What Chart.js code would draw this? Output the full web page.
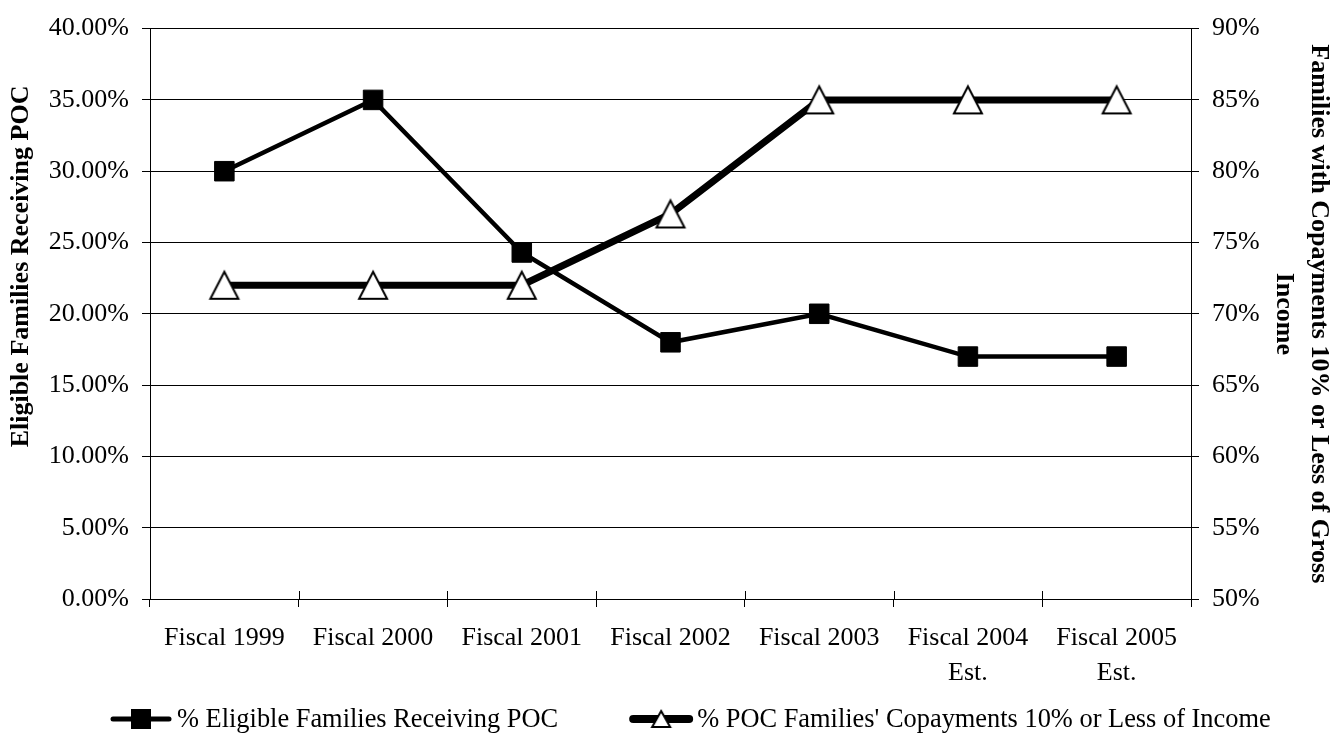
<!DOCTYPE html>
<html>
<head>
<meta charset="utf-8">
<title>POC Eligibility and Copayments</title>
<script src="https://cdn.jsdelivr.net/npm/chart.js@4/dist/chart.umd.min.js"></script>
<style>
  html, body { margin: 0; padding: 0; background: #fff; }
  #wrap { width: 1334px; height: 734px; position: relative; }
</style>
</head>
<body>
<div id="wrap"><canvas id="chart" width="1334" height="734"></canvas></div>
<script>
// Fiscal years on the category axis (last two are estimates)
const categories = [
  'Fiscal 1999', 'Fiscal 2000', 'Fiscal 2001', 'Fiscal 2002', 'Fiscal 2003',
  ['Fiscal 2004', 'Est.'], ['Fiscal 2005', 'Est.']
];

// Share of eligible families receiving POC (left axis, percent)
const eligibleReceiving = [30, 35, 24.3, 18, 20, 17, 17];

// Share of POC families whose copayment is 10% or less of income (right axis, percent)
const copayTenOrLess = [72, 72, 72, 77, 85, 85, 85];

const seriesLabels = [
  '% Eligible Families Receiving POC',
  "% POC Families' Copayments 10% or Less of Income"
];

const leftTitle = 'Eligible Families Receiving POC';
const rightTitle = ['Families with Copayments 10% or Less of Gross', 'Income'];

const FONT = "'Liberation Serif', 'Times New Roman', Times, serif";
Chart.defaults.font.family = FONT;
Chart.defaults.color = '#000';

// Open triangle marker, centred on its bounding box
function triangleMarker(w, h, lw) {
  const pad = 3;
  const c = document.createElement('canvas');
  c.width = w + pad * 2;
  c.height = h + pad * 2;
  const g = c.getContext('2d');
  g.beginPath();
  g.moveTo(c.width / 2, pad);
  g.lineTo(pad + w, pad + h);
  g.lineTo(pad, pad + h);
  g.closePath();
  g.fillStyle = '#fff';
  g.fill();
  g.lineWidth = lw;
  g.strokeStyle = '#000';
  g.stroke();
  return c;
}
const triChart = triangleMarker(28, 27, 2);
const triLegend = triangleMarker(18, 16, 2);

// Short tick stubs pointing into the plot on the category axis
const innerTicks = {
  id: 'innerTicks',
  beforeDatasetsDraw(chart) {
    const xs = chart.scales.x;
    const ctx = chart.ctx;
    const bottom = chart.chartArea.bottom;
    ctx.save();
    ctx.strokeStyle = '#000';
    ctx.lineWidth = 1;
    ctx.beginPath();
    for (let i = 0; i <= categories.length; i++) {
      const x = Math.round(xs.getPixelForValue(i - 0.5)) + 0.5;
      ctx.moveTo(x, bottom - 8);
      ctx.lineTo(x, bottom);
    }
    ctx.stroke();
    ctx.restore();
  }
};

// Left axis title, set a little above the middle of the plot
const leftAxisTitle = {
  id: 'leftAxisTitle',
  afterDraw(chart) {
    const ctx = chart.ctx;
    const area = chart.chartArea;
    const cy = area.top + (area.bottom - area.top) * 0.417;
    ctx.save();
    ctx.translate(21, cy);
    ctx.rotate(-Math.PI / 2);
    ctx.font = 'bold 26px ' + FONT;
    ctx.fillStyle = '#000';
    ctx.textAlign = 'center';
    ctx.textBaseline = 'middle';
    ctx.fillText(leftTitle, 0, 0);
    ctx.restore();
  }
};

// Legend row under the axis: line sample with marker, then the series name
const lineLegend = {
  id: 'lineLegend',
  afterDraw(chart) {
    const ctx = chart.ctx;
    const y = chart.height - 15;
    const sampleW = 62;
    const gapText = 5;
    const gapItems = 72;
    let x = 110;
    ctx.save();
    ctx.font = '26.4px ' + FONT;
    ctx.textBaseline = 'middle';
    ctx.textAlign = 'left';
    chart.data.datasets.forEach((ds, i) => {
      ctx.beginPath();
      ctx.lineCap = 'round';
      ctx.strokeStyle = '#000';
      ctx.lineWidth = i === 0 ? 5 : 8;
      ctx.moveTo(x + 3, y);
      ctx.lineTo(x + sampleW - 3, y);
      ctx.stroke();
      const cx = x + sampleW / 2;
      if (i === 0) {
        ctx.fillStyle = '#000';
        ctx.fillRect(cx - 10, y - 10, 20, 20);
      } else {
        ctx.drawImage(triLegend, cx - triLegend.width / 2, y - triLegend.height / 2);
      }
      ctx.fillStyle = '#000';
      const tx = x + sampleW + gapText;
      ctx.fillText(ds.label, tx, y + 1);
      x = tx + ctx.measureText(ds.label).width + gapItems;
    });
    ctx.restore();
  }
};

const tickFont = { size: 26, lineHeight: 1.33 };
const titleFont = { size: 26, weight: 'bold', lineHeight: 1.35 };

new Chart(document.getElementById('chart'), {
  type: 'line',
  data: {
    labels: categories,
    datasets: [
      {
        label: seriesLabels[0],
        data: eligibleReceiving,
        yAxisID: 'y',
        borderColor: '#000',
        borderWidth: 4.5,
        pointStyle: 'rect',
        pointRadius: 13.8,
        pointHoverRadius: 13.8,
        pointBackgroundColor: '#000',
        pointBorderColor: '#000',
        pointBorderWidth: 1,
        tension: 0,
        order: 1
      },
      {
        label: seriesLabels[1],
        data: copayTenOrLess,
        yAxisID: 'y1',
        borderColor: '#000',
        borderWidth: 7,
        pointStyle: triChart,
        pointRadius: 15,
        pointHoverRadius: 15,
        tension: 0,
        order: 0
      }
    ]
  },
  options: {
    responsive: false,
    animation: false,
    events: [],
    layout: { padding: { left: 0, right: 0, top: 25, bottom: 0 } },
    plugins: {
      legend: { display: false },
      tooltip: { enabled: false }
    },
    scales: {
      x: {
        type: 'category',
        offset: true,
        grid: {
          offset: true,
          drawOnChartArea: false,
          drawTicks: true,
          tickLength: 8,
          color: '#000',
          lineWidth: 1
        },
        border: { color: '#000', width: 1 },
        ticks: {
          font: tickFont,
          color: '#000',
          padding: 14,
          maxRotation: 0,
          minRotation: 0,
          autoSkip: false
        },
        afterFit(scale) { scale.height = 135; }
      },
      y: {
        position: 'left',
        min: 0,
        max: 40,
        ticks: {
          stepSize: 5,
          callback: v => v.toFixed(2) + '%',
          font: { size: 26 },
          color: '#000',
          padding: 13
        },
        grid: { color: '#000', lineWidth: 1, tickLength: 8 },
        border: { color: '#000', width: 1 },
        title: { display: false },
        afterFit(scale) { scale.width = 150; }
      },
      y1: {
        position: 'right',
        min: 50,
        max: 90,
        ticks: {
          stepSize: 5,
          callback: v => v + '%',
          font: { size: 26 },
          color: '#000',
          padding: 13
        },
        grid: { drawOnChartArea: false, color: '#000', lineWidth: 1, tickLength: 8 },
        border: { color: '#000', width: 1 },
        title: {
          display: true,
          text: rightTitle,
          font: titleFont,
          color: '#000',
          padding: { top: -2.5, bottom: 0 }
        },
        afterFit(scale) { scale.width = 143; }
      }
    }
  },
  plugins: [innerTicks, leftAxisTitle, lineLegend]
});
</script>
</body>
</html>
